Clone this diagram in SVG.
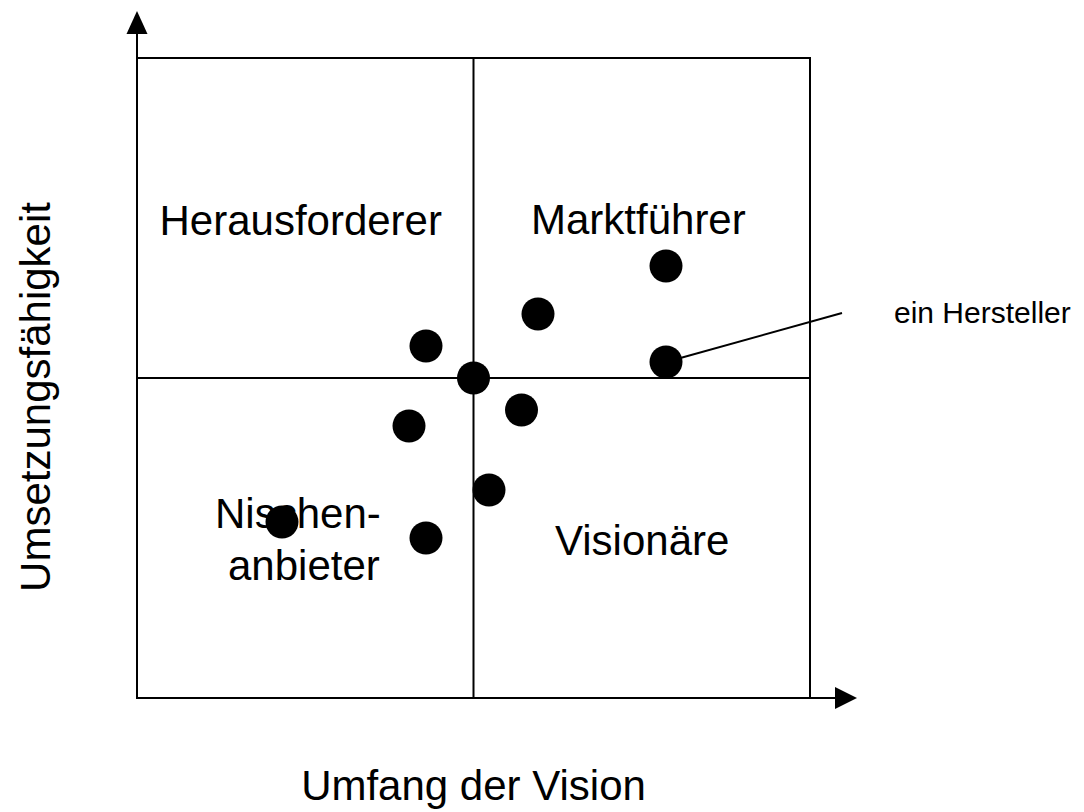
<svg xmlns="http://www.w3.org/2000/svg" width="1084" height="812" viewBox="0 0 1084 812">
<style>
.ln{stroke:#000;stroke-width:2;fill:none}
.lbl{font-family:"Liberation Sans",Arial,sans-serif;font-size:42px;fill:#000}
.small{font-family:"Liberation Sans",Arial,sans-serif;font-size:30px;fill:#000}
.dot{fill:#000}
</style>
<rect width="1084" height="812" fill="#fff"/>
<g id="frame">
<rect class="ln" x="137" y="58" width="673" height="640"/>
<line class="ln" x1="473.5" y1="58" x2="473.5" y2="698"/>
<line class="ln" x1="137" y1="378" x2="810" y2="378"/>
</g>
<g id="axes">
<line class="ln" x1="137" y1="698" x2="137" y2="32"/>
<polygon points="137,11 126.5,34 147.5,34" fill="#000"/>
<line class="ln" x1="137" y1="698" x2="836" y2="698"/>
<polygon points="857,698 835,687 835,709" fill="#000"/>
</g>
<g id="connectors">
<line class="ln" x1="666" y1="362" x2="842" y2="313"/>
</g>
<g id="quadrant-labels">
<text class="lbl" x="159.5" y="235">Herausforderer</text>
<text class="lbl" x="531" y="234">Marktführer</text>
<text class="lbl" x="555" y="555">Visionäre</text>
<text class="lbl" x="215" y="528">Nischen-</text>
<text class="lbl" x="228" y="580">anbieter</text>
</g>
<g id="axis-labels">
<text class="lbl" x="473.5" y="800" text-anchor="middle">Umfang der Vision</text>
<text class="lbl" x="0" y="0" text-anchor="middle" transform="translate(50,397) rotate(-90)">Umsetzungsfähigkeit</text>
</g>
<g id="vendors">
<circle class="dot" cx="666" cy="266" r="16.5"/>
<circle class="dot" cx="538" cy="314" r="16.5"/>
<circle class="dot" cx="426" cy="346" r="16.5"/>
<circle class="dot" cx="666" cy="362" r="16.5"/>
<circle class="dot" cx="473.5" cy="378" r="16.5"/>
<circle class="dot" cx="521.5" cy="410" r="16.5"/>
<circle class="dot" cx="409" cy="426" r="16.5"/>
<circle class="dot" cx="489" cy="490" r="16.5"/>
<circle class="dot" cx="282" cy="522" r="16.5"/>
<circle class="dot" cx="426" cy="538" r="16.5"/>
</g>
<g id="hersteller-label">
<text class="small" x="894" y="323">ein Hersteller</text>
</g>
</svg>
